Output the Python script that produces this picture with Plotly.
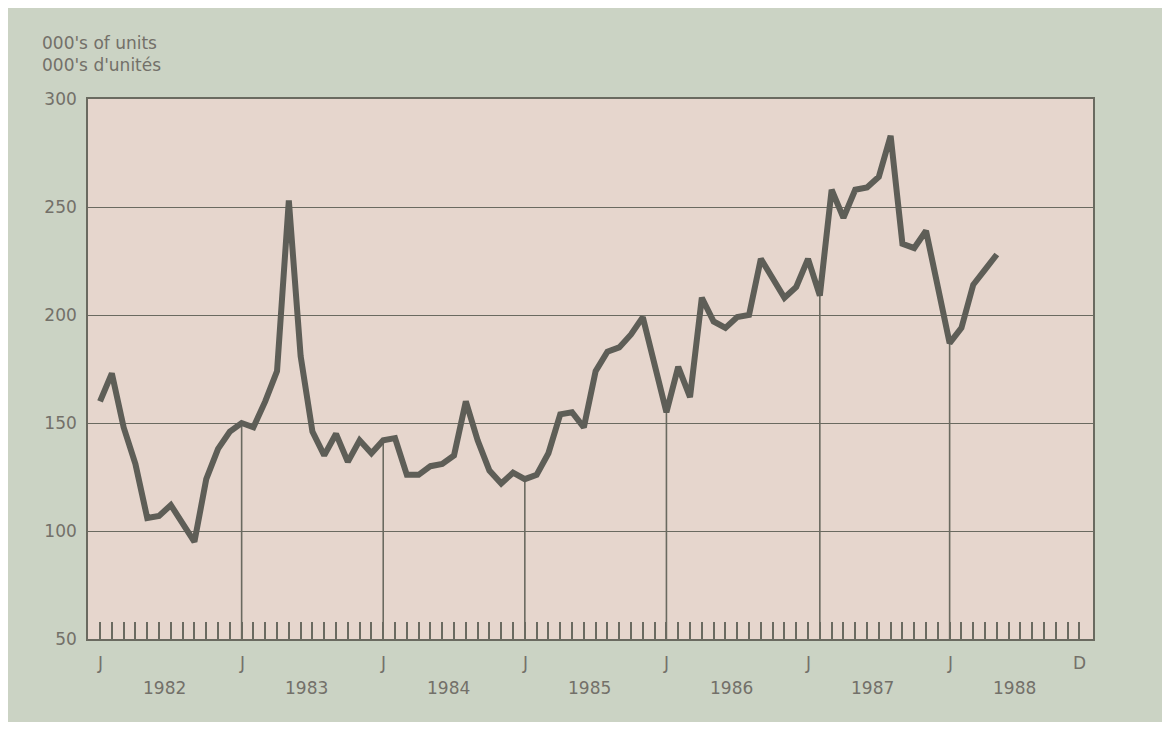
import plotly.graph_objects as go

# Monthly index 0 = January 1982
years = [1982, 1983, 1984, 1985, 1986, 1987, 1988]
units = [
    160, 173, 148, 131, 106, 107, 112, 103, 95, 124, 138, 146,      # 1982
    150, 148, 160, 174, 253, 181, 146, 135, 145, 132, 142, 136,     # 1983
    142, 143, 126, 126, 130, 131, 135, 160, 142, 128, 122, 127,     # 1984
    124, 126, 136, 154, 155, 148, 174, 183, 185, 191, 199, 177,     # 1985
    155, 176, 162, 208, 197, 194, 199, 200, 226, 217, 208, 213,     # 1986
    226, 209, 258, 245, 258, 259, 264, 283, 233, 231, 239, 213,     # 1987
    187, 194, 214, 221, 228,                                        # 1988
]
months = list(range(len(units)))
# months where the vertical January drop lines are drawn in the original
drop_months = [12, 24, 36, 48, 61, 72]
y_ticks = [50, 100, 150, 200, 250, 300]
n_months_axis = 84  # Jan 1982 .. Dec 1988

TEXT = "#737069"
GRID = "#6a6a60"
FONT = "DejaVu Sans"
FS = 17

fig = go.Figure()

# drop lines from the January points down to the axis
dx, dy = [], []
for m in drop_months:
    dx += [m, m, None]
    dy += [50, units[m], None]
fig.add_trace(go.Scatter(x=dx, y=dy, mode="lines",
                         line=dict(color=GRID, width=1.6),
                         hoverinfo="skip", showlegend=False))

fig.add_trace(go.Scatter(x=months, y=units, mode="lines",
                         line=dict(color="#5e5e57", width=6),
                         showlegend=False))

annotations = []
for i, yr in enumerate(years):
    annotations.append(dict(x=12 * i + 5.5, y=-0.068, xref="x", yref="paper",
                            yanchor="top",
                            text=str(yr), showarrow=False,
                            font=dict(family=FONT, size=FS, color=TEXT)))
    annotations.append(dict(x=12 * i, y=-0.022, xref="x", yref="paper",
                            yanchor="top",
                            text="J", showarrow=False,
                            font=dict(family=FONT, size=FS, color=TEXT)))
annotations.append(dict(x=n_months_axis - 1, y=-0.022, xref="x", yref="paper",
                        yanchor="top",
                        text="D", showarrow=False,
                        font=dict(family=FONT, size=FS, color=TEXT)))
annotations.append(dict(x=-0.048, y=1.126, xref="paper", yref="paper",
                        xanchor="left", yanchor="top", align="left",
                        text="000's of units<br>000's d'unités", showarrow=False,
                        font=dict(family=FONT, size=FS, color=TEXT)))

fig.update_layout(
    width=1154, height=714,
    margin=dict(l=80, r=69, t=91, b=83),
    paper_bgcolor="#cbd3c4",
    plot_bgcolor="#e6d6cd",
    font=dict(family=FONT, size=FS, color=TEXT),
    annotations=annotations,
)
fig.update_xaxes(
    range=[-1.02, 84.15],
    tickvals=list(range(n_months_axis)),
    ticktext=[""] * n_months_axis,
    ticks="inside", ticklen=17, tickwidth=1.6, tickcolor=GRID,
    showgrid=False, zeroline=False,
    showline=True, linecolor=GRID, linewidth=1.6, mirror=True,
)
fig.update_yaxes(
    range=[50, 300],
    tickvals=y_ticks,
    ticks="", ticklabelstandoff=6,
    tickfont=dict(family=FONT, size=FS, color=TEXT),
    showgrid=True, gridcolor=GRID, gridwidth=1.4,
    zeroline=False,
    showline=True, linecolor=GRID, linewidth=1.6, mirror=True,
)

fig.write_html("out.html")
